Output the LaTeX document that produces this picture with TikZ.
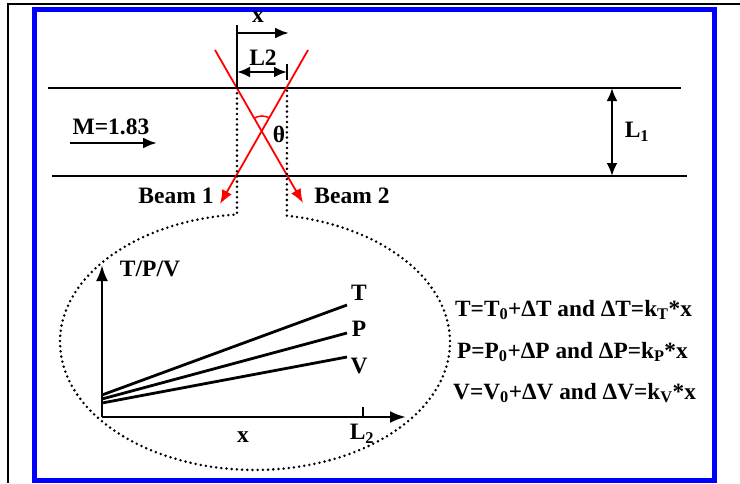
\documentclass[tikz,border=0pt]{standalone}
\usepackage{fontspec}
\setmainfont{Liberation Serif}
\usetikzlibrary{arrows.meta}
\tikzset{
  lbl/.style   = {font=\fontsize{23.5}{25}\selectfont\bfseries, inner sep=0pt},
  eqn/.style   = {lbl, font=\fontsize{23.3}{25}\selectfont\bfseries, anchor=west},
  wall/.style  = {line width=2.8pt},
  beam/.style  = {red, line width=1.8pt, -{Latex[length=14pt,width=11pt]}},
  arr/.style   = {line width=2.6pt, -{Latex[length=14pt,width=11pt]}},
  darr/.style  = {line width=2.6pt, {Latex[length=13pt,width=11pt]}-{Latex[length=13pt,width=11pt]}},
  guide/.style = {line width=2.8pt, line cap=round, dash pattern=on 0pt off 5.2pt}
}

\begin{document}
\begin{tikzpicture}[x=1pt, y=-1pt]
  \useasboundingbox (0,0) rectangle (740,483);
  % frames
  \draw[line width=2pt] (8,483) -- (8,4) -- (740,4);
  \draw[blue, line width=5pt] (34.5,9.5) rectangle (714.5,480.5);

  % channel walls
  \coordinate (wtl) at (48,88);   \coordinate (wtr) at (681,88);
  \coordinate (wbl) at (52,176);  \coordinate (wbr) at (687,176);
  \draw[wall] (wtl) -- (wtr);
  \draw[wall] (wbl) -- (wbr);
  \draw[darr] (612,88) coordinate (h1) -- (612,176) coordinate (h2);
  \node[lbl] (l1) at (637,132) {L\textsubscript{1}};

  % flow
  \node[lbl] (mach) at (111,127) {M=1.83};
  \draw[arr] (70,143) coordinate (m1) -- (157,143) coordinate (m2);

  % beams
  \coordinate (ul) at (237,88);  \coordinate (ur) at (287,88);
  \coordinate (b1s) at (308,50); \coordinate (b1e) at (220,204);
  \coordinate (b2s) at (215,50); \coordinate (b2e) at (303,203);
  \coordinate (cross) at (262,131);
  \draw[beam] (b1s) -- (b1e);
  \draw[beam] (b2s) -- (b2e);
  \draw[red, line width=1.5pt] (cross) ++(239:15) arc[start angle=239, end angle=301, radius=15];
  \node[lbl] (theta) at (279,134) {θ};
  \node[lbl] (beam1) at (176,196) {Beam 1};
  \node[lbl] (beam2) at (352,196) {Beam 2};

  % x and L2 on top
  \draw[line width=2.2pt] (237,25) coordinate (x0) -- (ul);
  \draw[arr] (237,33) -- (289,33) coordinate (x1);
  \node[lbl] (xtop) at (258,17) {x};
  \draw[darr] (237,72) -- (287,72) coordinate (l2e);
  \draw[line width=1.6pt] (287,64) -- (287,80);
  \node[lbl] (l2top) at (263,58) {L2};

  % zoom outline
  \draw[guide] (ul) -- (237,214.5)
    arc[start angle=264.7, end angle=-80.6, x radius=195, y radius=128] -- (ur);

  % small graph
  \coordinate (o) at (102,417);
  \draw[arr, -{Latex[length=16pt,width=12pt]}] (o) -- (102,265) coordinate (ytip);
  \draw[arr, -{Latex[length=16pt,width=12pt]}] (o) -- (406,417) coordinate (xtip);
  \draw[line width=1.6pt] (363,407) -- (363,417);
  \node[lbl] (tpv) at (150,269) {T/P/V};
  \node[lbl] (xlab) at (243,437) {x};
  \node[lbl] (l2lab) at (362,434) {L\textsubscript{2}};
  \draw[wall] (102,395) -- (347,305) coordinate (tend);
  \draw[wall] (102,399) -- (347,333) coordinate (pend);
  \draw[wall] (102,403) -- (347,357) coordinate (vend);
  \node[lbl] (tl) at (359,293) {T};
  \node[lbl] (pl) at (359,329) {P};
  \node[lbl] (vl) at (359,366) {V};

  % relations
  \node[eqn] (eqt) at (455,310) {T=T\textsubscript{0}+ΔT and ΔT=k\textsubscript{T}*x};
  \node[eqn] (eqp) at (457,352) {P=P\textsubscript{0}+ΔP and ΔP=k\textsubscript{P}*x};
  \node[eqn] (eqv) at (453,393) {V=V\textsubscript{0}+ΔV and ΔV=k\textsubscript{V}*x};
\end{tikzpicture}
\end{document}
